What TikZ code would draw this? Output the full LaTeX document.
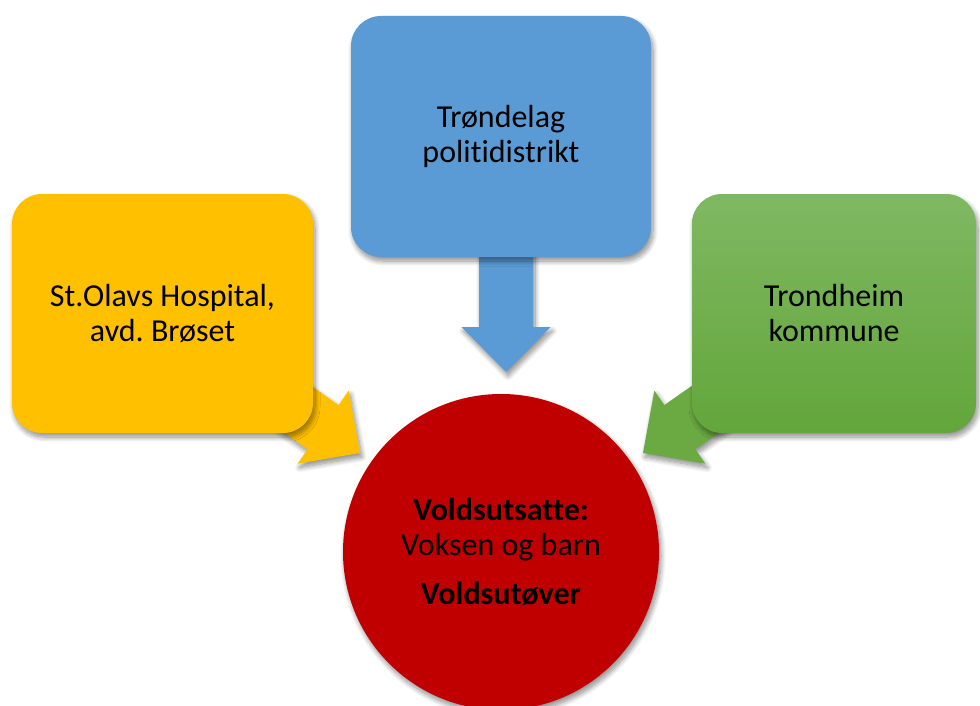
\documentclass[tikz,border=0pt]{standalone}
\usepackage{fontspec}
\setmainfont[Ligatures={NoCommon}]{Carlito}
\usetikzlibrary{shadows.blur}
\definecolor{cyellow}{HTML}{FFC000}
\definecolor{cblue}{HTML}{5B9BD5}
\definecolor{cred}{HTML}{C00000}
\definecolor{cgreentop}{HTML}{7FB862}
\definecolor{cgreenbot}{HTML}{63A63B}
\definecolor{cgreen}{HTML}{6BAA43}
\newcommand\mkarrowpts[5]{%
  \begin{scope}[shift={(#2,#3)}, rotate=#4]
    \coordinate (#1t) at (0,0);
    \coordinate (#1a) at (-45,44.5);
    \coordinate (#1b) at (-45,27);
    \coordinate (#1c) at (-#5,27);
    \coordinate (#1d) at (-#5,-27);
    \coordinate (#1e) at (-45,-27);
    \coordinate (#1f) at (-45,-44.5);
  \end{scope}}
\begin{document}
\frenchspacing
\begin{tikzpicture}[x=1pt,y=-1pt,
  softshadow/.style={blur shadow={shadow xshift=2pt, shadow yshift=-4pt, shadow blur radius=5pt, shadow blur steps=10, shadow opacity=45}},
  box/.style={rectangle, rounded corners=30pt, inner sep=0pt, align=center,
    font=\fontsize{32}{35}\selectfont, text=black, softshadow},
  blockarrow/.style={softshadow}]
\useasboundingbox (0,0) rectangle (980,706);
% arrow geometry
\mkarrowpts{B}{506}{372}{-90}{125}
\mkarrowpts{Y}{360}{453}{-35}{145}
\mkarrowpts{G}{643}{453}{-145}{145}
% block arrows (behind the boxes)
\fill[blockarrow, cblue] (Bt) -- (Ba) -- (Bb) -- (Bc) -- (Bd) -- (Be) -- (Bf) -- cycle;
\fill[blockarrow, cyellow] (Yt) -- (Ya) -- (Yb) -- (Yc) -- (Yd) -- (Ye) -- (Yf) -- cycle;
\fill[blockarrow, cgreen] (Gt) -- (Ga) -- (Gb) -- (Gc) -- (Gd) -- (Ge) -- (Gf) -- cycle;
% boxes
\node[box, fill=cyellow, minimum width=301pt, minimum height=239pt] (hosp) at (162.5,313.5)
  {St.Olavs Hospital,\\avd. Brøset};
\node[box, fill=cblue, minimum width=300pt, minimum height=241pt] (police) at (501,136.5)
  {Trøndelag\\politidistrikt};
\node[box, top color=cgreentop, bottom color=cgreenbot, minimum width=284pt, minimum height=239pt] (kommune) at (834,313.5)
  {Trondheim\\kommune};
% circle
\node[circle, fill=cred, minimum size=316pt, inner sep=0pt, align=center,
  font=\fontsize{32}{35}\selectfont, text=black, softshadow] (victim) at (501,552)
  {\textbf{Voldsutsatte:}\\Voksen og barn\\[14pt]\textbf{Voldsutøver}};
\end{tikzpicture}
\end{document}
